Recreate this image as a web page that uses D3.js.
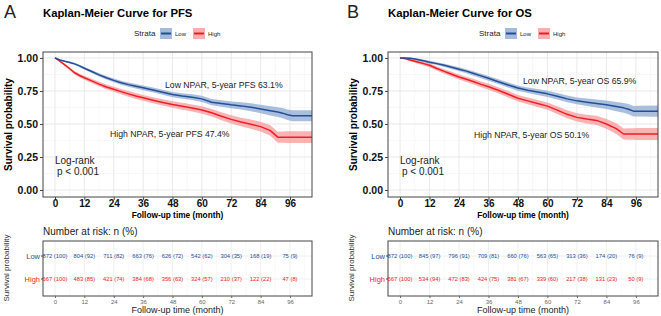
<!DOCTYPE html>
<html><head><meta charset="utf-8">
<script src="https://cdn.jsdelivr.net/npm/d3@7"></script>
<style>body{margin:0;background:#fff}svg{display:block}text{font-family:"Liberation Sans",Arial,sans-serif}</style>
</head><body><svg id="c" width="661" height="316"></svg>
<script>
// ---- data ----
const times = [0,2,4,6,8,10,12,15,18,21,24,27,30,33,36,40,44,48,52,56,60,64,68,72,76,80,84,88,91,93,95,97,105];
const pfsLow  = [1.000,0.985,0.975,0.966,0.955,0.940,0.922,0.897,0.872,0.850,0.830,0.812,0.798,0.786,0.774,0.758,0.740,0.723,0.712,0.703,0.690,0.665,0.655,0.645,0.637,0.627,0.614,0.600,0.590,0.582,0.570,0.562,0.562];
const pfsHigh = [1.000,0.975,0.948,0.918,0.888,0.867,0.850,0.826,0.802,0.780,0.763,0.745,0.728,0.712,0.698,0.680,0.663,0.647,0.634,0.621,0.606,0.585,0.558,0.535,0.515,0.498,0.480,0.450,0.400,0.400,0.400,0.400,0.400];
const osLow   = [1.000,1.000,0.997,0.992,0.985,0.977,0.968,0.957,0.944,0.930,0.915,0.900,0.882,0.864,0.846,0.820,0.795,0.772,0.756,0.742,0.728,0.710,0.690,0.675,0.665,0.655,0.645,0.632,0.622,0.612,0.597,0.597,0.597];
const osHigh  = [1.000,0.995,0.985,0.975,0.965,0.955,0.945,0.920,0.898,0.877,0.856,0.838,0.820,0.800,0.782,0.755,0.725,0.695,0.675,0.655,0.635,0.605,0.573,0.550,0.537,0.527,0.500,0.465,0.424,0.424,0.424,0.424,0.424];
const ciLow   = [0,0.004,0.006,0.007,0.008,0.009,0.010,0.011,0.012,0.013,0.014,0.015,0.016,0.017,0.018,0.018,0.019,0.020,0.021,0.022,0.023,0.024,0.025,0.026,0.028,0.030,0.032,0.035,0.037,0.039,0.040,0.041,0.042];
const ciHigh  = [0,0.006,0.009,0.011,0.013,0.014,0.015,0.016,0.017,0.018,0.019,0.020,0.021,0.022,0.022,0.023,0.024,0.025,0.026,0.027,0.028,0.029,0.030,0.031,0.033,0.035,0.037,0.040,0.042,0.043,0.044,0.045,0.045];
const riskTimes = [0,12,24,36,48,60,72,84,96];
const pfsRiskLow  = ["872 (100)","804 (92)","711 (82)","663 (76)","626 (72)","542 (62)","304 (35)","168 (19)","75 (9)"];
const pfsRiskHigh = ["567 (100)","483 (85)","421 (74)","384 (68)","356 (63)","324 (57)","210 (37)","122 (22)","47 (8)"];
const osRiskLow   = ["872 (100)","845 (97)","796 (91)","709 (81)","660 (76)","563 (65)","313 (36)","174 (20)","76 (9)"];
const osRiskHigh  = ["567 (100)","534 (94)","472 (83)","424 (75)","381 (67)","339 (60)","217 (38)","131 (23)","50 (9)"];
const yTicks = [0,0.25,0.5,0.75,1.0];
const strata = ["Low","High"];

const BLUE = "#234f97", RED = "#f21d24", BLUEF = "#8eaad3", REDF = "#f59a9c";
const svg = d3.select("#c");

function panel(o){
  const g = svg.append("g");
  const x = d3.scaleLinear().domain([-4.9,105]).range([o.left,o.right]);
  const y = d3.scaleLinear().domain([-0.053,1.045]).range([197,52]);
  // letter + title
  g.append("text").attr("x",o.letterX).attr("y",18).attr("font-size",18).attr("font-weight",300).attr("fill","#222").text(o.letter);
  g.append("text").attr("x",o.left).attr("y",16.5).attr("font-size",11.3).attr("font-weight","bold").text(o.title);
  // legend
  const lg = g.append("g");
  lg.append("text").attr("x",o.legX).attr("y",36).attr("font-size",8).attr("fill","#222").text("Strata");
  [[BLUE,BLUEF,"Low",26],[RED,REDF,"High",59]].forEach(([c,f,l,dx])=>{
    lg.append("rect").attr("x",o.legX+dx).attr("y",28).attr("width",12).attr("height",11).attr("fill",f).attr("opacity",0.8);
    lg.append("line").attr("x1",o.legX+dx+1).attr("x2",o.legX+dx+11).attr("y1",33.5).attr("y2",33.5).attr("stroke",c).attr("stroke-width",2);
    lg.append("text").attr("x",o.legX+dx+15).attr("y",35.5).attr("font-size",6).attr("fill","#222").text(l);
  });
  // grid
  const gr = g.append("g");
  const minorX = d3.range(6,105,12), majorX = riskTimes;
  minorX.forEach(t=>gr.append("line").attr("x1",x(t)).attr("x2",x(t)).attr("y1",52).attr("y2",197).attr("stroke","#f2f2f2").attr("stroke-width",0.6));
  majorX.forEach(t=>gr.append("line").attr("x1",x(t)).attr("x2",x(t)).attr("y1",52).attr("y2",197).attr("stroke","#e6e6e6").attr("stroke-width",0.9));
  [0.125,0.375,0.625,0.875].forEach(v=>gr.append("line").attr("x1",o.left).attr("x2",o.right).attr("y1",y(v)).attr("y2",y(v)).attr("stroke","#f2f2f2").attr("stroke-width",0.6));
  yTicks.forEach(v=>gr.append("line").attr("x1",o.left).attr("x2",o.right).attr("y1",y(v)).attr("y2",y(v)).attr("stroke","#e6e6e6").attr("stroke-width",0.9));
  // clip
  const cid = "clip"+o.letter;
  svg.append("clipPath").attr("id",cid).append("rect").attr("x",o.left).attr("y",52).attr("width",o.right-o.left).attr("height",145);
  const pg = g.append("g").attr("clip-path",`url(#${cid})`);
  const series = [[o.high,ciHigh,RED,REDF],[o.low,ciLow,BLUE,BLUEF]];
  series.forEach(([vals,ci,c,f])=>{
    const d = times.map((t,i)=>({t,v:vals[i],lo:vals[i]-ci[i],hi:vals[i]+ci[i]}));
    pg.append("path").datum(d).attr("fill",f).attr("opacity",0.75)
      .attr("d",d3.area().x(p=>x(p.t)).y0(p=>y(p.lo)).y1(p=>y(p.hi)));
  });
  series.forEach(([vals,ci,c,f])=>{
    const d = times.map((t,i)=>({t,v:vals[i]}));
    pg.append("path").datum(d).attr("fill","none").attr("stroke",c).attr("stroke-width",1.5).attr("stroke-linejoin","round")
      .attr("d",d3.line().x(p=>x(p.t)).y(p=>y(p.v)));
  });
  // border
  g.append("rect").attr("x",o.left).attr("y",52).attr("width",o.right-o.left).attr("height",145).attr("fill","none").attr("stroke","#444").attr("stroke-width",1);
  // axes
  const ya = g.append("g").attr("transform",`translate(${o.left},0)`).call(d3.axisLeft(y).tickValues(yTicks).tickFormat(d3.format(".2f")).tickSize(3).tickPadding(2));
  ya.select(".domain").remove();
  ya.selectAll("text").attr("font-size",10.5).attr("font-weight","bold").attr("fill","#111").attr("font-family","Liberation Sans, Arial");
  ya.selectAll("line").attr("stroke","#444");
  const xa = g.append("g").attr("transform",`translate(0,197)`).call(d3.axisBottom(x).tickValues(riskTimes).tickSize(3).tickPadding(0));
  xa.select(".domain").remove();
  xa.selectAll("text").attr("font-size",10).attr("font-weight","bold").attr("fill","#111").attr("font-family","Liberation Sans, Arial").attr("dy","0.68em");
  xa.selectAll("line").attr("stroke","#444");
  g.append("text").attr("x",(o.left+o.right)/2).attr("y",217.5).attr("text-anchor","middle").attr("font-size",8.3).attr("font-weight","bold").text("Follow-up time (month)");
  g.append("text").attr("transform",`translate(${o.left-31},124.5) rotate(-90)`).attr("text-anchor","middle").attr("font-size",10).attr("font-weight","bold").text("Survival probability");
  // annotations
  g.append("text").attr("x",o.lowAnn[0]).attr("y",o.lowAnn[1]).attr("font-size",8.7).attr("fill","#222").attr("font-family","Open Sans").text(o.lowText);
  g.append("text").attr("x",o.highAnn[0]).attr("y",o.highAnn[1]).attr("font-size",8.7).attr("fill","#222").attr("font-family","Open Sans").text(o.highText);
  g.append("text").attr("x",o.left+12).attr("y",163.5).attr("font-size",10).attr("fill","#222").attr("font-family","Open Sans").text("Log-rank");
  g.append("text").attr("x",o.left+14).attr("y",175).attr("font-size",10).attr("fill","#222").attr("font-family","Open Sans").text("p < 0.001");

  // risk table
  const rt = g.append("g");
  rt.append("text").attr("x",o.left).attr("y",235).attr("font-size",10).attr("fill","#222").text("Number at risk: n (%)");
  const ry = d3.scalePoint().domain(strata).range([256,279]);
  riskTimes.forEach(t=>rt.append("line").attr("x1",x(t)).attr("x2",x(t)).attr("y1",241).attr("y2",296).attr("stroke","#ececec").attr("stroke-width",0.8));
  d3.range(6,105,12).forEach(t=>rt.append("line").attr("x1",x(t)).attr("x2",x(t)).attr("y1",241).attr("y2",296).attr("stroke","#f5f5f5").attr("stroke-width",0.6));
  strata.forEach(s=>rt.append("line").attr("x1",o.left).attr("x2",o.right).attr("y1",ry(s)).attr("y2",ry(s)).attr("stroke","#ececec").attr("stroke-width",0.8));
  rt.append("rect").attr("x",o.left).attr("y",241).attr("width",o.right-o.left).attr("height",55).attr("fill","none").attr("stroke","#444").attr("stroke-width",1);
  [[o.rLow,"Low",BLUE],[o.rHigh,"High",RED]].forEach(([arr,s,c])=>{
    arr.forEach((lab,i)=>rt.append("text").attr("x",x(riskTimes[i])).attr("y",ry(s)+2).attr("text-anchor","middle").attr("font-size",5.8).attr("fill",c).text(lab));
    rt.append("text").attr("x",o.left-3).attr("y",ry(s)+2.5).attr("text-anchor","end").attr("font-size",7.5).attr("fill",c).text(s);
    rt.append("line").attr("x1",o.left-2).attr("x2",o.left).attr("y1",ry(s)).attr("y2",ry(s)).attr("stroke","#444");
  });
  const rx = rt.append("g").attr("transform","translate(0,296)").call(d3.axisBottom(x).tickValues(riskTimes).tickSize(2).tickPadding(2));
  rx.select(".domain").remove();
  rx.selectAll("text").attr("font-size",6).attr("fill","#666").attr("font-family","Liberation Sans, Arial");
  rx.selectAll("line").attr("stroke","#666");
  rt.append("text").attr("x",(o.left+o.right)/2).attr("y",313).attr("text-anchor","middle").attr("font-size",9).attr("fill","#222").text("Follow-up time (month)");
  rt.append("text").attr("transform",`translate(${o.left-34},268) rotate(-90)`).attr("text-anchor","middle").attr("font-size",8).attr("fill","#333").text("Survival probability");
}

panel({letter:"A",letterX:4,title:"Kaplan-Meier Curve for PFS",left:43,right:312,legX:134,
  low:pfsLow,high:pfsHigh,lowAnn:[165,87.5],highAnn:[110,136.5],
  lowText:"Low NPAR, 5-year PFS 63.1%",highText:"High NPAR, 5-year PFS 47.4%",rLow:pfsRiskLow,rHigh:pfsRiskHigh});
panel({letter:"B",letterX:347,title:"Kaplan-Meier Curve for OS",left:388,right:658,legX:479,
  low:osLow,high:osHigh,lowAnn:[523,83.5],highAnn:[474,137.5],
  lowText:"Low NPAR, 5-year OS 65.9%",highText:"High NPAR, 5-year OS 50.1%",rLow:osRiskLow,rHigh:osRiskHigh});
</script></body></html>
